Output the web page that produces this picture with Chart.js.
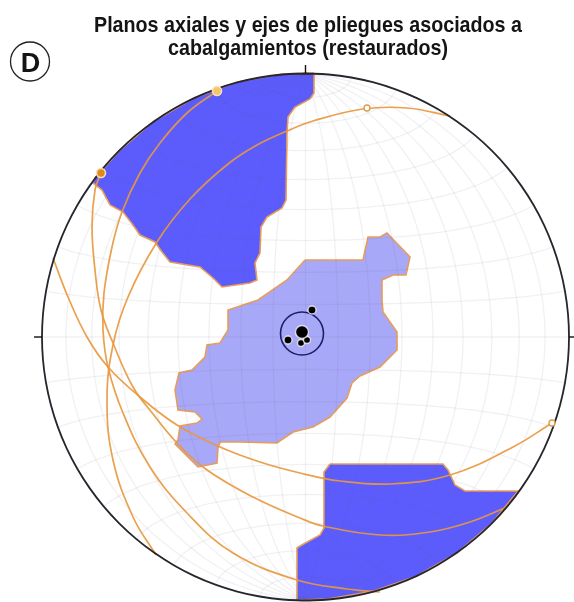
<!DOCTYPE html>
<html>
<head>
<meta charset="utf-8">
<style>
  html, body { margin: 0; padding: 0; background: #fff; }
  canvas { display: block; }
</style>
<script src="https://cdn.jsdelivr.net/npm/chart.js@4"></script>
</head>
<body>
<canvas id="myChart" width="574" height="602"></canvas>
<script>
var titleLines = ['Planos axiales y ejes de pliegues asociados a', 'cabalgamientos (restaurados)'];
var panelLetter = 'D';

// red de Schmidt cada 10 grados
var netTicks = [-80, -70, -60, -50, -40, -30, -20, -10, 0, 10, 20, 30, 40, 50, 60, 70, 80];
var netCenter = [305.5, 337];
var netRadius = 263.5;

// contornos de densidad
var zonaNO = [[314,73],[314,93],[310,99],[295,107],[288,117],[287,133],[286,200],[282,208],[267,217],[261,227],[260,253],[255,263],[257,280],[250,283],[222,287],[213,278],[200,267],[170,262],[162,252],[155,242],[140,235],[133,225],[123,212],[110,205],[102,190],[93,183],[95,178],[104,168],[119,151],[154,121],[194,98],[237,82],[282,74],[305,73],[314,73]];
var zonaSE = [[330,464],[443,464],[448,470],[455,485],[465,491],[518,491],[492,523],[457,553],[417,576],[374,591],[328,599],[297,600],[297,548],[300,546],[320,535],[324,528],[324,472],[330,464]];
var zonaCentro = [[305,260],[363,260],[368,237],[380,237],[387,233],[410,257],[406,275],[393,275],[382,280],[382,300],[383,312],[397,332],[397,350],[380,367],[360,376],[352,383],[347,398],[330,417],[313,427],[293,432],[277,443],[240,442],[220,442],[218,448],[217,463],[198,467],[175,444],[178,440],[180,426],[197,423],[202,419],[195,412],[178,410],[175,390],[179,373],[192,370],[205,357],[207,345],[220,343],[228,330],[228,310],[258,300],[287,280],[305,260]];

// planos axiales (ciclográficas)
var planoA = [[217,91],[187,113],[160,143],[140,173],[122,212],[112,247],[104,293],[103,330],[108,367],[123,413],[150,467],[187,513],[233,553],[297,580],[347,589],[380,592]];
var planoB = [[101,173],[95,190],[92,227],[95,270],[101,310],[113,343],[133,387],[153,414],[177,443],[207,470],[253,497],[300,518],[323,526],[380,535],[430,532],[470,522],[507,507]];
var planoC = [[450,116],[407,108],[363,109],[313,121],[287,131],[257,145],[228,164],[190,199],[157,242],[128,297],[113,345],[107,400],[113,460],[133,517],[156,555]];
var planoD = [[53,258],[68,297],[87,337],[108,367],[140,397],[177,425],[220,447],[260,462],[300,473],[340,481],[390,484],[450,475],[513,447],[552,423]];

// polos y ejes
var polosLlenos = [[101,173],[217,91]];
var polosHuecos = [[367,108],[552,423]];
var ejes = [[312,310],[288,340],[301,343],[307,340],[302,332]];
var ejesRadio = [4, 4, 3.5, 3.5, 6.5];
var conoCentro = [[302,333.5]];
var marcas = [[[305.5,65],[305.5,73]], [[34,337],[42,337]], [[569,337],[574,337]]];

function puntos(lista){
    return lista.map(function(p){ return {x: p[0], y: p[1]}; });
}

// proyeccion de Schmidt, solo para la reticula
function schmidt(lon, lat){
    var l = lon * Math.PI / 180, f = lat * Math.PI / 180;
    var k = Math.sqrt(1 / (1 + Math.cos(f) * Math.cos(l)));
    return {
        x: netCenter[0] + netRadius * k * Math.cos(f) * Math.sin(l),
        y: netCenter[1] - netRadius * k * Math.sin(f)
    };
}

function meridiano(lon){
    var out = [];
    for(var lat = -90; lat <= 90; lat += 5){ out.push(schmidt(lon, lat)); }
    return out;
}

function paralelo(lat){
    var out = [];
    for(var lon = -90; lon <= 90; lon += 5){ out.push(schmidt(lon, lat)); }
    return out;
}

function linea(data, color, ancho, tension){
    return {data: data, showLine: true, fill: false, borderColor: color, borderWidth: ancho,
            pointRadius: 0, tension: tension};
}

function zona(lista, relleno){
    return {data: puntos(lista), showLine: true, fill: 'shape', backgroundColor: relleno,
            borderColor: '#e89c5c', borderWidth: 1.6, pointRadius: 0, tension: 0};
}

var colorPlano = 'rgba(232,152,62,0.92)';
var colorRed = 'rgba(90,90,125,0.085)';

// en orden de dibujo
var capas = [];
capas.push(zona(zonaNO, '#5c5cfd'));
capas.push(zona(zonaSE, '#5c5cfd'));
capas.push(zona(zonaCentro, '#a8a8f8'));
netTicks.forEach(function(t){
    capas.push(linea(meridiano(t), colorRed, 1.3, 0.4));
    capas.push(linea(paralelo(t), colorRed, 1.3, 0.4));
});
capas.push(linea(puntos(planoA), colorPlano, 1.7, 0.4));
capas.push(linea(puntos(planoB), colorPlano, 1.7, 0.4));
capas.push(linea(puntos(planoC), colorPlano, 1.7, 0.4));
capas.push(linea(puntos(planoD), colorPlano, 1.7, 0.4));
capas.push(linea(meridiano(90).concat(meridiano(-90).reverse()), '#26262e', 1.8, 0.4));
marcas.forEach(function(m){
    capas.push(linea(puntos(m), '#111', 1.4, 0));
});
capas.push({data: puntos(conoCentro), pointRadius: 21.5, pointBackgroundColor: 'rgba(0,0,0,0)',
            pointBorderColor: '#1e1e66', pointBorderWidth: 1.6});
capas.push({data: puntos(ejes), pointRadius: ejesRadio, pointBackgroundColor: '#000',
            pointBorderColor: 'rgba(255,255,255,0.75)', pointBorderWidth: 1.4});
capas.push({data: puntos(polosLlenos), pointRadius: 4.5, pointBackgroundColor: ['#e08a1c', '#f3c766'],
            pointBorderColor: '#f6dcc0', pointBorderWidth: 1.6});
capas.push({data: puntos(polosHuecos), pointRadius: 3, pointBackgroundColor: '#fff',
            pointBorderColor: '#dca04a', pointBorderWidth: 1.4});
capas.forEach(function(c, i){ c.order = capas.length - i; });

var textos = {
    id: 'textos',
    afterDraw: function(chart){
        var ctx = chart.ctx, sx = chart.scales.x, sy = chart.scales.y;
        ctx.save();
        ctx.fillStyle = '#141414';
        ctx.textAlign = 'center';
        ctx.textBaseline = 'alphabetic';
        ctx.font = 'bold 22px "Liberation Sans", Arial, sans-serif';
        ctx.fillText(titleLines[0], sx.getPixelForValue(308), sy.getPixelForValue(32), 428);
        ctx.fillText(titleLines[1], sx.getPixelForValue(308), sy.getPixelForValue(55), 280);

        ctx.beginPath();
        ctx.arc(sx.getPixelForValue(30), sy.getPixelForValue(61.5), 19.5, 0, Math.PI * 2);
        ctx.strokeStyle = '#222';
        ctx.lineWidth = 1.3;
        ctx.stroke();
        ctx.font = 'bold 27px "Liberation Sans", Arial, sans-serif';
        ctx.fillText(panelLetter, sx.getPixelForValue(30.5), sy.getPixelForValue(71.5));
        ctx.restore();
    }
};

var charGrafico = new Chart(document.getElementById('myChart'), {
    type: 'scatter',
    data: {datasets: capas},
    options: {
        responsive: false,
        animation: false,
        layout: {padding: 0, autoPadding: false},
        plugins: {legend: {display: false}, tooltip: {enabled: false}, title: {display: false}},
        scales: {
            x: {type: 'linear', min: 0, max: 574, display: false},
            y: {type: 'linear', min: 0, max: 602, reverse: true, display: false}
        }
    },
    plugins: [textos]
});
</script>
</body>
</html>
